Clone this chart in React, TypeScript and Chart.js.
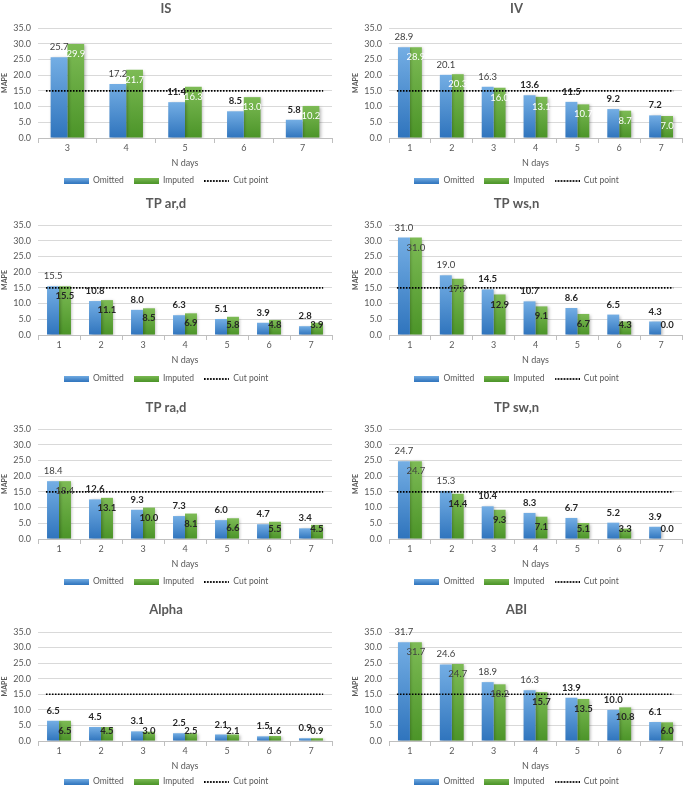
import React, { useEffect, useRef } from "react";
import { Chart, registerables } from "chart.js";

Chart.register(...registerables);

// ---------- data ----------
const SERIES_NAMES = ["Omitted", "Imputed", "Cut point"];
const CUT_POINT = 15;
const Y_MAX = 35;
const Y_STEP = 5;
const X_TITLE = "N days";
const Y_TITLE = "MAPE";

const DAYS_IS = ["3", "4", "5", "6", "7"];
const DAYS = ["1", "2", "3", "4", "5", "6", "7"];

const IS_OMITTED = [25.7, 17.2, 11.4, 8.5, 5.8];
const IS_IMPUTED = [29.9, 21.7, 16.3, 13.0, 10.2];

const IV_OMITTED = [28.9, 20.1, 16.3, 13.6, 11.5, 9.2, 7.2];
const IV_IMPUTED = [28.9, 20.3, 16.0, 13.1, 10.7, 8.7, 7.0];

const TPARD_OMITTED = [15.5, 10.8, 8.0, 6.3, 5.1, 3.9, 2.8];
const TPARD_IMPUTED = [15.5, 11.1, 8.5, 6.9, 5.8, 4.8, 3.9];

const TPWSN_OMITTED = [31.0, 19.0, 14.5, 10.7, 8.6, 6.5, 4.3];
const TPWSN_IMPUTED = [31.0, 17.9, 12.9, 9.1, 6.7, 4.3, 0.0];

const TPRAD_OMITTED = [18.4, 12.6, 9.3, 7.3, 6.0, 4.7, 3.4];
const TPRAD_IMPUTED = [18.4, 13.1, 10.0, 8.1, 6.6, 5.5, 4.5];

const TPSWN_OMITTED = [24.7, 15.3, 10.4, 8.3, 6.7, 5.2, 3.9];
const TPSWN_IMPUTED = [24.7, 14.4, 9.3, 7.1, 5.1, 3.3, 0.0];

const ALPHA_OMITTED = [6.5, 4.5, 3.1, 2.5, 2.1, 1.5, 0.9];
const ALPHA_IMPUTED = [6.5, 4.5, 3.0, 2.5, 2.1, 1.6, 0.9];

const ABI_OMITTED = [31.7, 24.6, 18.9, 16.3, 13.9, 10.0, 6.1];
const ABI_IMPUTED = [31.7, 24.7, 18.2, 15.7, 13.5, 10.8, 6.0];

const TITLES = ["IS", "IV", "TP ar,d", "TP ws,n", "TP ra,d", "TP sw,n", "Alpha", "ABI"];

type Panel = {
  title: string;
  labels: string[];
  omitted: number[];
  imputed: number[];
  whiteInside: boolean;
  row: number;
  col: number;
};

const PANELS: Panel[] = [
  { title: TITLES[0], labels: DAYS_IS, omitted: IS_OMITTED, imputed: IS_IMPUTED, whiteInside: true, row: 0, col: 0 },
  { title: TITLES[1], labels: DAYS, omitted: IV_OMITTED, imputed: IV_IMPUTED, whiteInside: true, row: 0, col: 1 },
  { title: TITLES[2], labels: DAYS, omitted: TPARD_OMITTED, imputed: TPARD_IMPUTED, whiteInside: false, row: 1, col: 0 },
  { title: TITLES[3], labels: DAYS, omitted: TPWSN_OMITTED, imputed: TPWSN_IMPUTED, whiteInside: false, row: 1, col: 1 },
  { title: TITLES[4], labels: DAYS, omitted: TPRAD_OMITTED, imputed: TPRAD_IMPUTED, whiteInside: false, row: 2, col: 0 },
  { title: TITLES[5], labels: DAYS, omitted: TPSWN_OMITTED, imputed: TPSWN_IMPUTED, whiteInside: false, row: 2, col: 1 },
  { title: TITLES[6], labels: DAYS, omitted: ALPHA_OMITTED, imputed: ALPHA_IMPUTED, whiteInside: false, row: 3, col: 0 },
  { title: TITLES[7], labels: DAYS, omitted: ABI_OMITTED, imputed: ABI_IMPUTED, whiteInside: false, row: 3, col: 1 },
];

// ---------- layout / style ----------
const FONT = "Lato, 'Liberation Sans', sans-serif";
const TEXT = "#595959";
const ROWS = [
  { titleC: 9, plotTop: 28, plotBottom: 138, xTitleC: 163.3, legendC: 181 },
  { titleC: 204, plotTop: 225, plotBottom: 335, xTitleC: 360, legendC: 379 },
  { titleC: 407.5, plotTop: 429, plotBottom: 539, xTitleC: 564, legendC: 582 },
  { titleC: 610, plotTop: 632, plotBottom: 741, xTitleC: 765.7, legendC: 782 },
];
const COLS = [
  { x: 0, w: 342, padL: 0, padR: 10 },
  { x: 342, w: 343, padL: 9, padR: 3 },
];
const TITLE_SIZE = 13;
const TITLE_PAD_TOP = 1.2;
const LEGEND_SIZE = 8.5;
const LEGEND_PAD = 10;
const TICK_SIZE = 9;
const CUT_LINE_START = 0.027;
const CUT_LINE_END = 0.97;

const BLUE_TOP = "#74aee4";
const BLUE_BOTTOM = "#2f74bd";
const GREEN_TOP = "#7dbb55";
const GREEN_BOTTOM = "#4b9428";

function swatch(kind: "blue" | "green" | "dots"): HTMLCanvasElement {
  const c = document.createElement("canvas");
  const ctx = c.getContext("2d")!;
  if (kind === "dots") {
    c.width = 25;
    c.height = 2;
    ctx.fillStyle = "#000";
    for (let x = 0; x < 25; x += 3) ctx.fillRect(x, 0, 1.6, 2);
  } else {
    c.width = 25;
    c.height = 6;
    const g = ctx.createLinearGradient(0, 0, 0, 6);
    g.addColorStop(0, kind === "blue" ? BLUE_TOP : GREEN_TOP);
    g.addColorStop(1, kind === "blue" ? BLUE_BOTTOM : GREEN_BOTTOM);
    ctx.fillStyle = g;
    ctx.fillRect(0, 0, 25, 6);
  }
  return c;
}

const gradientFill = (top: string, bottom: string) => (ctx: any) => {
  const chart = ctx.chart;
  const area = chart.chartArea;
  if (!area || ctx.type !== "data") return top;
  const y = chart.scales.y.getPixelForValue(ctx.raw);
  const y0 = Math.min(y, area.bottom - 1);
  const g = chart.ctx.createLinearGradient(0, y0, 0, area.bottom);
  g.addColorStop(0, top);
  g.addColorStop(1, bottom);
  return g;
};

const shadowPlugin = {
  id: "barShadow",
  beforeDatasetDraw(chart: any, args: any) {
    if (args.meta.type === "bar") {
      const c = chart.ctx;
      c.save();
      c.shadowColor = "rgba(0,0,0,0.28)";
      c.shadowBlur = 3;
      c.shadowOffsetX = 1.5;
      c.shadowOffsetY = 1;
    }
  },
  afterDatasetDraw(chart: any, args: any) {
    if (args.meta.type === "bar") chart.ctx.restore();
  },
};

function makeOverlayPlugin(panel: Panel) {
  return {
    id: "cutAndLabels",
    afterDatasetsDraw(chart: any) {
      const c = chart.ctx;
      const area = chart.chartArea;
      const yScale = chart.scales.y;
      const base = yScale.getPixelForValue(0);
      c.save();
      // cut point line
      const yc = yScale.getPixelForValue(CUT_POINT);
      c.strokeStyle = "#000000";
      c.lineWidth = 1.6;
      c.setLineDash([1.6, 1.4]);
      c.beginPath();
      c.moveTo(area.left + area.width * CUT_LINE_START, yc);
      c.lineTo(area.left + area.width * CUT_LINE_END, yc);
      c.stroke();
      c.setLineDash([]);
      // value labels
      c.textAlign = "center";
      c.textBaseline = "middle";
      [0, 1].forEach((di) => {
        const meta = chart.getDatasetMeta(di);
        const values = di === 0 ? panel.omitted : panel.imputed;
        meta.data.forEach((bar: any, i: number) => {
          const v = values[i];
          let bold: boolean;
          let color: string;
          let y: number;
          if (di === 0) {
            bold = v < 15;
            color = bold ? "#262626" : "#404040";
            y = bar.y - 10;
          } else {
            if (panel.whiteInside) {
              bold = false;
              color = "#ffffff";
            } else {
              bold = v < 16;
              color = bold ? "#262626" : "#404040";
            }
            y = Math.min(bar.y + 10, base - 10);
          }
          c.font = `${bold ? "bold " : ""}9.5px ${FONT}`;
          c.fillStyle = color;
          c.fillText(v.toFixed(1), bar.x, y);
        });
      });
      c.restore();
    },
  };
}

function ChartPanel({ panel }: { panel: Panel }) {
  const ref = useRef<HTMLCanvasElement>(null);
  const row = ROWS[panel.row];
  const col = COLS[panel.col];
  const top = Math.round(row.titleC - TITLE_PAD_TOP - (TITLE_SIZE * 1.2) / 2);
  const legendH = LEGEND_SIZE + LEGEND_PAD + 10;
  const legendTopAbs = row.legendC - LEGEND_PAD - LEGEND_SIZE / 2;
  const height = Math.round(legendTopAbs + legendH - top);
  const legendTop = top + height - legendH;
  const titlePadBottom = row.plotTop - top - TITLE_PAD_TOP - TITLE_SIZE * 1.2;
  const xScaleH = legendTop - row.plotBottom;
  const xTitlePadBottom = legendTop - row.xTitleC - (TICK_SIZE * 1.2) / 2;

  useEffect(() => {
    if (!ref.current) return;
    const blue = swatch("blue");
    const green = swatch("green");
    const dots = swatch("dots");
    const chart = new Chart(ref.current, {
      type: "bar",
      data: {
        labels: panel.labels,
        datasets: [
          {
            label: SERIES_NAMES[0],
            data: panel.omitted,
            backgroundColor: gradientFill(BLUE_TOP, BLUE_BOTTOM),
            borderWidth: 0,
            categoryPercentage: 0.57,
            barPercentage: 1,
          } as any,
          {
            label: SERIES_NAMES[1],
            data: panel.imputed,
            backgroundColor: gradientFill(GREEN_TOP, GREEN_BOTTOM),
            borderWidth: 0,
            categoryPercentage: 0.57,
            barPercentage: 1,
          } as any,
        ],
      },
      options: {
        responsive: false,
        maintainAspectRatio: false,
        animation: false,
        devicePixelRatio: 1,
        layout: { padding: { left: col.padL, right: col.padR, top: 0, bottom: 0 } },
        plugins: {
          tooltip: { enabled: false },
          title: {
            display: true,
            text: panel.title,
            color: TEXT,
            font: { family: FONT, size: TITLE_SIZE, weight: "bold" },
            padding: { top: TITLE_PAD_TOP, bottom: titlePadBottom },
          },
          legend: {
            display: true,
            position: "bottom",
            labels: {
              usePointStyle: true,
              pointStyleWidth: 25,
              padding: LEGEND_PAD,
              color: TEXT,
              font: { family: FONT, size: LEGEND_SIZE },
              generateLabels: () => [
                { text: SERIES_NAMES[0], pointStyle: blue, fillStyle: BLUE_TOP, strokeStyle: "transparent", lineWidth: 0, hidden: false, datasetIndex: 0, fontColor: TEXT } as any,
                { text: SERIES_NAMES[1], pointStyle: green, fillStyle: GREEN_TOP, strokeStyle: "transparent", lineWidth: 0, hidden: false, datasetIndex: 1, fontColor: TEXT } as any,
                { text: SERIES_NAMES[2], pointStyle: dots, fillStyle: "#000", strokeStyle: "transparent", lineWidth: 0, hidden: false, fontColor: TEXT } as any,
              ],
            },
          },
        },
        scales: {
          x: {
            type: "category",
            offset: true,
            grid: {
              display: true,
              drawOnChartArea: false,
              drawTicks: true,
              tickLength: 5,
              color: "#bfbfbf",
              offset: true,
            },
            border: { display: true, color: "#bfbfbf" },
            ticks: { color: TEXT, font: { family: FONT, size: TICK_SIZE }, padding: 0 },
            title: {
              display: true,
              text: X_TITLE,
              color: TEXT,
              font: { family: FONT, size: TICK_SIZE },
              padding: { top: 0, bottom: xTitlePadBottom },
            },
            afterFit: (s: any) => {
              s.height = xScaleH;
            },
          },
          y: {
            min: 0,
            max: Y_MAX,
            ticks: {
              stepSize: Y_STEP,
              color: TEXT,
              font: { family: FONT, size: TICK_SIZE },
              padding: 7,
              callback: (v: any) => Number(v).toFixed(1),
            },
            grid: { color: "#d9d9d9", drawTicks: false },
            border: { display: false },
            title: {
              display: true,
              text: Y_TITLE,
              color: TEXT,
              font: { family: FONT, size: 7, weight: "bold" },
              padding: { top: 1, bottom: 0 },
            },
            afterFit: (s: any) => {
              s.width = 38;
            },
          },
        },
      } as any,
      plugins: [shadowPlugin, makeOverlayPlugin(panel)],
    });
    return () => chart.destroy();
  }, []);

  return (
    <canvas
      ref={ref}
      width={col.w}
      height={height}
      style={{ position: "absolute", left: col.x, top, width: col.w, height }}
    />
  );
}

export default function App() {
  return (
    <div
      style={{
        position: "absolute",
        left: 0,
        top: 0,
        width: 685,
        height: 789,
        overflow: "hidden",
        background: "#ffffff",
      }}
    >
      {PANELS.map((p, i) => (
        <ChartPanel key={i} panel={p} />
      ))}
    </div>
  );
}
